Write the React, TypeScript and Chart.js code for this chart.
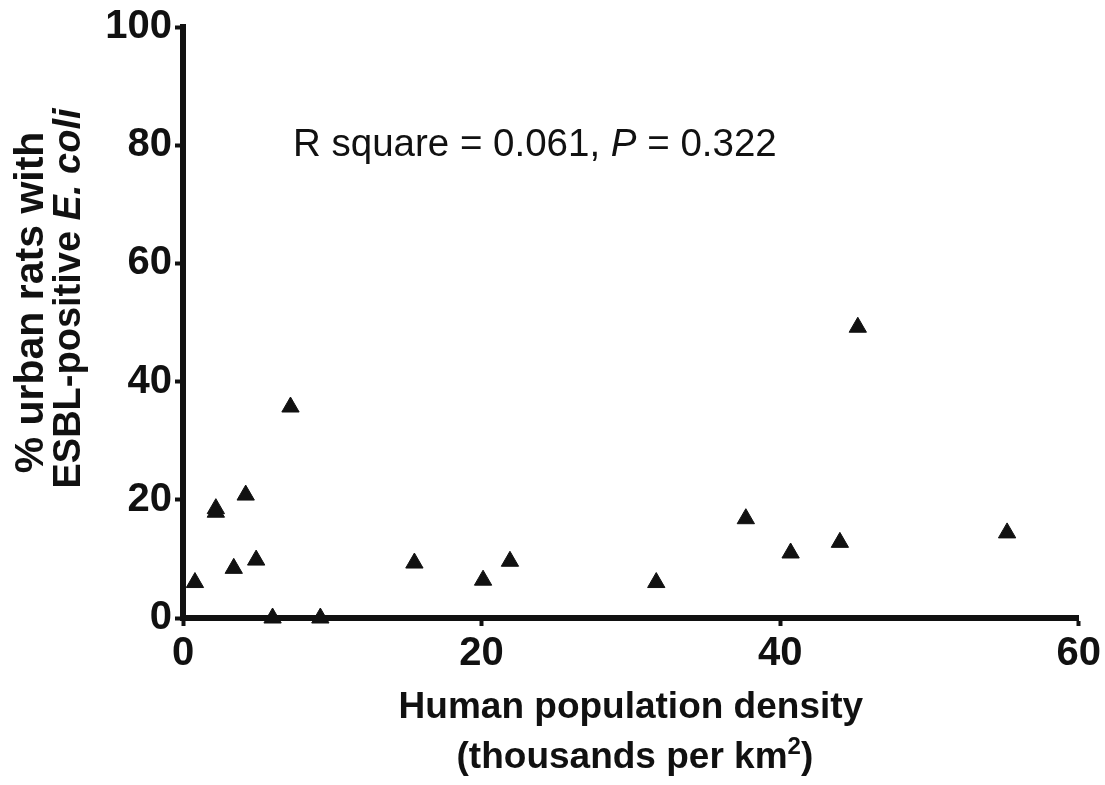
import React, { useEffect, useRef } from "react";
import { Chart, registerables } from "chart.js";

Chart.register(...registerables);

// Human population density (thousands per km2)
const densityValues: number[] = [0.8, 2.2, 2.2, 3.4, 4.2, 4.9, 6.0, 7.2, 9.2, 15.5, 20.1, 21.9, 31.7, 37.7, 40.7, 44.0, 45.2, 55.2];
// % urban rats with ESBL-positive E. coli
const ratPercentValues: number[] = [6.0, 18.5, 17.9, 8.4, 20.8, 9.8, 0, 35.7, 0, 9.3, 6.4, 9.6, 6.0, 16.8, 11.0, 12.8, 49.2, 14.4];

const xTicks: number[] = [0, 20, 40, 60];
const yTicks: number[] = [0, 20, 40, 60, 80, 100];

const FONT = "'Liberation Sans', Arial, Helvetica, sans-serif";
const INK = "#111111";

const textPlugin = {
  id: "customTexts",
  afterDraw(chart: any) {
    const { ctx, chartArea } = chart;
    ctx.save();
    ctx.fillStyle = INK;
    ctx.textBaseline = "alphabetic";

    // Annotation: R square = 0.061, P = 0.322
    const aFont = `38.5px ${FONT}`;
    const aFontI = `italic 38.5px ${FONT}`;
    const parts: [string, string][] = [
      ["R square = 0.061, ", aFont],
      ["P", aFontI],
      [" = 0.322", aFont],
    ];
    let ax = chartArea.left + 110;
    const ay = chartArea.top + 129;
    ctx.textAlign = "left";
    for (const [t, f] of parts) {
      ctx.font = f;
      ctx.fillText(t, ax, ay);
      ax += ctx.measureText(t).width;
    }

    // X axis title
    const cx = (chartArea.left + chartArea.right) / 2;
    const tFont = `bold 37px ${FONT}`;
    ctx.font = tFont;
    ctx.textAlign = "center";
    ctx.fillText("Human population density", cx, chartArea.bottom + 100);
    // second line with superscript
    const p1 = "(thousands per km";
    const sup = "2";
    const p2 = ")";
    const supFont = `bold 24px ${FONT}`;
    ctx.font = tFont;
    const w1 = ctx.measureText(p1).width;
    const w3 = ctx.measureText(p2).width;
    ctx.font = supFont;
    const w2 = ctx.measureText(sup).width;
    let lx = cx - (w1 + w2 + w3) / 2 + 4;
    const ly = chartArea.bottom + 150;
    ctx.textAlign = "left";
    ctx.font = tFont;
    ctx.fillText(p1, lx, ly);
    lx += w1;
    ctx.font = supFont;
    ctx.fillText(sup, lx, ly - 14);
    lx += w2;
    ctx.font = tFont;
    ctx.fillText(p2, lx, ly);

    // Y axis title (rotated)
    const cy = (chartArea.top + chartArea.bottom) / 2 - 24;
    ctx.save();
    ctx.translate(43, cy + 4);
    ctx.rotate(-Math.PI / 2);
    ctx.font = `bold 41px ${FONT}`;
    ctx.textAlign = "center";
    ctx.fillText("% urban rats with", 0, 0);
    ctx.restore();

    ctx.save();
    ctx.translate(80, cy);
    ctx.rotate(-Math.PI / 2);
    const yb = `bold 38px ${FONT}`;
    const yi = `italic bold 38px ${FONT}`;
    const s1 = "ESBL-positive ";
    const s2 = "E. coli";
    ctx.font = yb;
    const ws1 = ctx.measureText(s1).width;
    ctx.font = yi;
    const ws2 = ctx.measureText(s2).width;
    let sx = -(ws1 + ws2) / 2;
    ctx.textAlign = "left";
    ctx.font = yb;
    ctx.fillText(s1, sx, 0);
    sx += ws1;
    ctx.font = yi;
    ctx.fillText(s2, sx, 0);
    ctx.restore();

    ctx.restore();
  },
};

export default function App() {
  const canvasRef = useRef<HTMLCanvasElement | null>(null);

  useEffect(() => {
    const canvas = canvasRef.current;
    if (!canvas) return;
    const points = densityValues.map((x, i) => ({ x, y: ratPercentValues[i] }));
    const chart = new Chart(canvas, {
      type: "scatter",
      data: {
        datasets: [
          {
            data: points,
            pointStyle: "triangle",
            pointRadius: 10,
            pointHoverRadius: 10,
            backgroundColor: INK,
            borderColor: INK,
            borderWidth: 1,
            clip: false as any,
          },
        ],
      },
      options: {
        responsive: false,
        animation: false,
        events: [],
        layout: { padding: { top: 24, right: 25, left: 0, bottom: 0 } },
        plugins: {
          legend: { display: false },
          tooltip: { enabled: false },
          title: { display: false },
        },
        scales: {
          x: {
            type: "linear",
            min: 0,
            max: 60,
            afterBuildTicks: (scale: any) => {
              scale.ticks = xTicks.map((v) => ({ value: v }));
            },
            afterFit: (scale: any) => {
              scale.height = 167;
            },
            ticks: {
              color: INK,
              font: { family: FONT, size: 40, weight: "bold" },
              padding: 4,
              maxRotation: 0,
            },
            grid: {
              display: true,
              drawOnChartArea: false,
              drawTicks: true,
              tickLength: 8,
              tickWidth: 4,
              tickColor: INK,
            },
            border: { display: true, color: INK, width: 6 },
          },
          y: {
            type: "linear",
            min: 0,
            max: 100,
            afterBuildTicks: (scale: any) => {
              scale.ticks = yTicks.map((v) => ({ value: v }));
            },
            afterFit: (scale: any) => {
              scale.width = 183;
            },
            ticks: {
              color: INK,
              font: { family: FONT, size: 40, weight: "bold" },
              padding: 3,
            },
            grid: {
              display: true,
              drawOnChartArea: false,
              drawTicks: true,
              tickLength: 8,
              tickWidth: 4,
              tickColor: INK,
            },
            border: { display: true, color: INK, width: 6 },
          },
        },
      },
      plugins: [textPlugin],
    });
    return () => chart.destroy();
  }, []);

  return (
    <div style={{ position: "absolute", left: 0, top: 0, width: 1105, height: 785, background: "#fff" }}>
      <canvas ref={canvasRef} width={1105} height={785} style={{ display: "block" }} />
    </div>
  );
}
